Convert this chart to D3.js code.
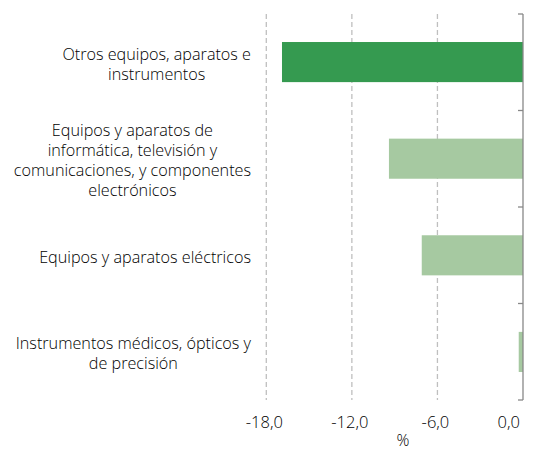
<!DOCTYPE html>
<html><head><meta charset="utf-8">
<script src="https://cdn.jsdelivr.net/npm/d3@7"></script>
<style>body{margin:0;background:#fff}svg{display:block}text{font-family:"Open Sans","Liberation Sans",Arial,sans-serif;font-weight:300;fill:#000}</style>
</head><body><svg id="c" width="535" height="450"></svg>
<script>
const categories = [
  ["Otros equipos, aparatos e", "instrumentos"],
  ["Equipos y aparatos de", "informática, televisión y", "comunicaciones, y componentes", "electrónicos"],
  ["Equipos y aparatos eléctricos"],
  ["Instrumentos médicos, ópticos y", "de precisión"]
];
const values = [-16.9, -9.4, -7.1, -0.3];
const barColors = ["#359a50", "#a6c9a1", "#a6c9a1", "#a6c9a1"];
const tickValues = [-18, -12, -6, 0];
const axisTitle = "%";

const svg = d3.select("#c");
const x = d3.scaleLinear().domain([-18, 0]).range([266.3, 523]);
const y = d3.scaleBand().domain(d3.range(categories.length)).range([14, 400]).paddingInner(0.585).paddingOuter(0.29);

svg.append("g").selectAll("line").data(tickValues.filter(d => d !== 0)).join("line")
  .attr("x1", d => x(d)).attr("x2", d => x(d)).attr("y1", 14).attr("y2", 400)
  .attr("stroke", "#bfbfbf").attr("stroke-width", 1.3).attr("stroke-dasharray", "5,3");

svg.append("g").selectAll("rect").data(values).join("rect")
  .attr("x", d => x(Math.min(d, 0))).attr("width", d => Math.abs(x(d) - x(0)))
  .attr("y", (d, i) => y(i)).attr("height", y.bandwidth())
  .attr("fill", (d, i) => barColors[i]);

const bandStep = (400 - 14) / categories.length;
const ax = svg.append("g");
ax.append("line").attr("x1", x(0)).attr("x2", x(0)).attr("y1", 14).attr("y2", 400).attr("stroke", "#888").attr("stroke-width", 1.3);
ax.selectAll("line.t").data(d3.range(categories.length + 1)).join("line").attr("class", "t")
  .attr("x1", x(0) - 5).attr("x2", x(0)).attr("y1", i => 14 + i * bandStep).attr("y2", i => 14 + i * bandStep)
  .attr("stroke", "#888").attr("stroke-width", 1.3);

svg.append("g").selectAll("text").data(tickValues).join("text")
  .attr("x", d => d === 0 ? 520 : x(d) - 2).attr("y", 428)
  .attr("text-anchor", d => d === 0 ? "end" : "middle").attr("font-size", 16.5)
  .text(d => d3.format(".1f")(d).replace(".", ",").replace("−", "-"));
svg.append("text").attr("x", 403).attr("y", 446).attr("text-anchor", "middle").attr("font-size", 16).text(axisTitle);

const lh = 20;
categories.forEach((lines, i) => {
  const g = svg.append("g");
  const cy = y(i) + y.bandwidth() / 2;
  const ts = lines.map((l, j) => g.append("text").attr("font-size", 16.2).attr("text-anchor", "middle")
    .attr("y", cy + (j - (lines.length - 1) / 2) * lh + 7.5).text(l));
  const maxW = d3.max(ts, t => t.node().getComputedTextLength());
  ts.forEach(t => t.attr("x", 251 - maxW / 2));
});
</script></body></html>
